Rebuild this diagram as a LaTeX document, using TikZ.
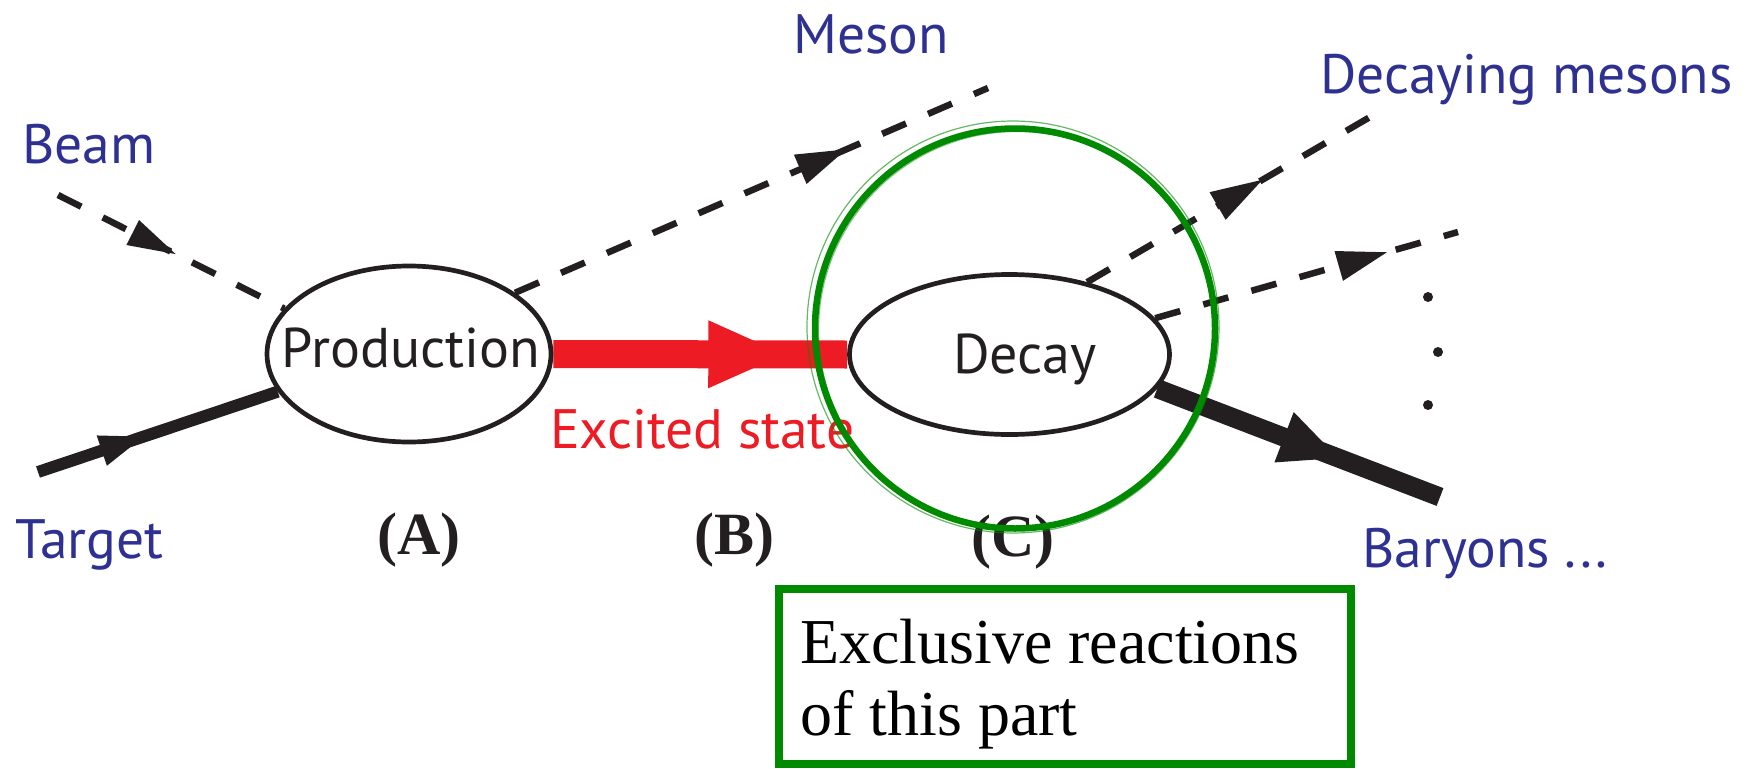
\documentclass[tikz,border=0pt]{standalone}
\usepackage{fontspec}
\setmainfont{Liberation Serif}
\newfontfamily\lab{PT Sans}
\usetikzlibrary{shapes.geometric,decorations.markings}
\pgfdeclarelayer{bg}
\pgfsetlayers{bg,main}
\definecolor{ink}{HTML}{231F20}
\definecolor{labblue}{HTML}{2E3192}
\definecolor{exred}{HTML}{ED1C24}
\definecolor{brushgreen}{RGB}{0,138,0}
\tikzset{
  lbl/.style={font=\lab\fontsize{55.5}{62}\selectfont, text=labblue, inner sep=0pt, anchor=base west},
  intext/.style={font=\lab\fontsize{56}{62}\selectfont, text=ink, inner sep=0pt, anchor=base},
  abc/.style={font=\bfseries\fontsize{60}{66}\selectfont, text=ink, inner sep=0pt, anchor=base},
  blob/.style={ellipse, draw=ink, fill=white, line width=4.7pt, inner sep=0pt},
  dashline/.style={draw=ink, line width=6.5pt, dash pattern=on 26pt off 24pt},
  midarrow/.style n args={4}{postaction={decorate, decoration={markings,
      mark=at position #1 with {\fill[#4] (0pt,0pt) -- (-#2pt,#3pt) -- (-#2pt,-#3pt) -- cycle;}}}},
  dot/.style={fill=ink}
}
\begin{document}
\begin{tikzpicture}[x=1pt,y=-1pt]
\useasboundingbox (0,0) rectangle (1760,768);

% free ends
\coordinate (beamstart) at (58,195);
\coordinate (tgtstart) at (38,472);
\coordinate (mesonend) at (988,88);
\coordinate (dmAend) at (1370,117);
\coordinate (dmBend) at (1458,232);
\coordinate (baryend) at (1440,497);

% vertices
\node[blob, minimum width=284pt, minimum height=176pt] (prod) at (409,354) {};
\node[blob, minimum width=320pt, minimum height=160pt] (decay) at (1009.5,354.5) {};
\node[intext] (prodtext) at (411,367) {Production};
\node[intext] (decaytext) at (1025,373) {Decay};

% connectors
\begin{pgfonlayer}{bg}
\fill[white] (0,0) rectangle (1760,768);
\draw[dashline, midarrow={0.52}{48}{14}{ink}] (beamstart) -- (prod.160);
\draw[draw=ink, line width=12pt, midarrow={0.44}{44}{16}{ink}] (tgtstart) -- (prod.196);
\draw[dashline, midarrow={0.70}{50}{16}{ink}] (prod.30) -- (mesonend);
\draw[dashline, midarrow={0.62}{52}{16}{ink}] (decay.43) -- (dmAend);
\draw[dashline, midarrow={0.765}{50}{15.5}{ink}] (decay.14) -- (dmBend);
\draw[draw=ink, line width=19pt, midarrow={0.64}{58}{27}{ink}] (decay.-13) -- (baryend);
\draw[draw=exred, line width=28pt, midarrow={0.786}{76}{34}{exred}] (prod.east) -- (decay.west);
\end{pgfonlayer}

% dots
\fill[dot] (1428,297) circle (5pt);
\fill[dot] (1438,352) circle (5pt);
\fill[dot] (1428,405) circle (5pt);

% labels
\node[lbl] (beam) at (22,163) {Beam};
\node[lbl] (target) at (15,558) {Target};
\node[lbl] (meson) at (793,53) {Meson};
\node[lbl] (decmes) at (1320,93) {Decaying mesons};
\node[lbl] (baryons) at (1362,567) {Baryons ...};
\node[lbl, text=exred] (excited) at (550,448) {Excited state};

\node[abc] (A) at (419,554) {(A)};
\node[abc] (B) at (734,554) {(B)};
\node[abc] (C) at (1013,556) {(C)};

% highlight circle
\node[circle, draw=brushgreen, line width=6.5pt, minimum size=400pt, inner sep=0pt] (focus) at (1015,328.5) {};
\draw[brushgreen, line width=1.2pt, opacity=.6] (1013,327) circle (206pt);
\draw[brushgreen, line width=1.2pt, opacity=.5] (1017,330) circle (198.5pt);

% box
\node[draw=brushgreen, line width=8pt, minimum width=572pt, minimum height=175pt, inner sep=0pt] (box) at (1065,676.5) {};
\node[anchor=base west, inner sep=0pt, font=\fontsize{64}{72}\selectfont, text=black] (boxtext) at (800,663)
  {\begin{tabular}[t]{@{}l@{}}Exclusive reactions\\of this part\end{tabular}};
\end{tikzpicture}
\end{document}
